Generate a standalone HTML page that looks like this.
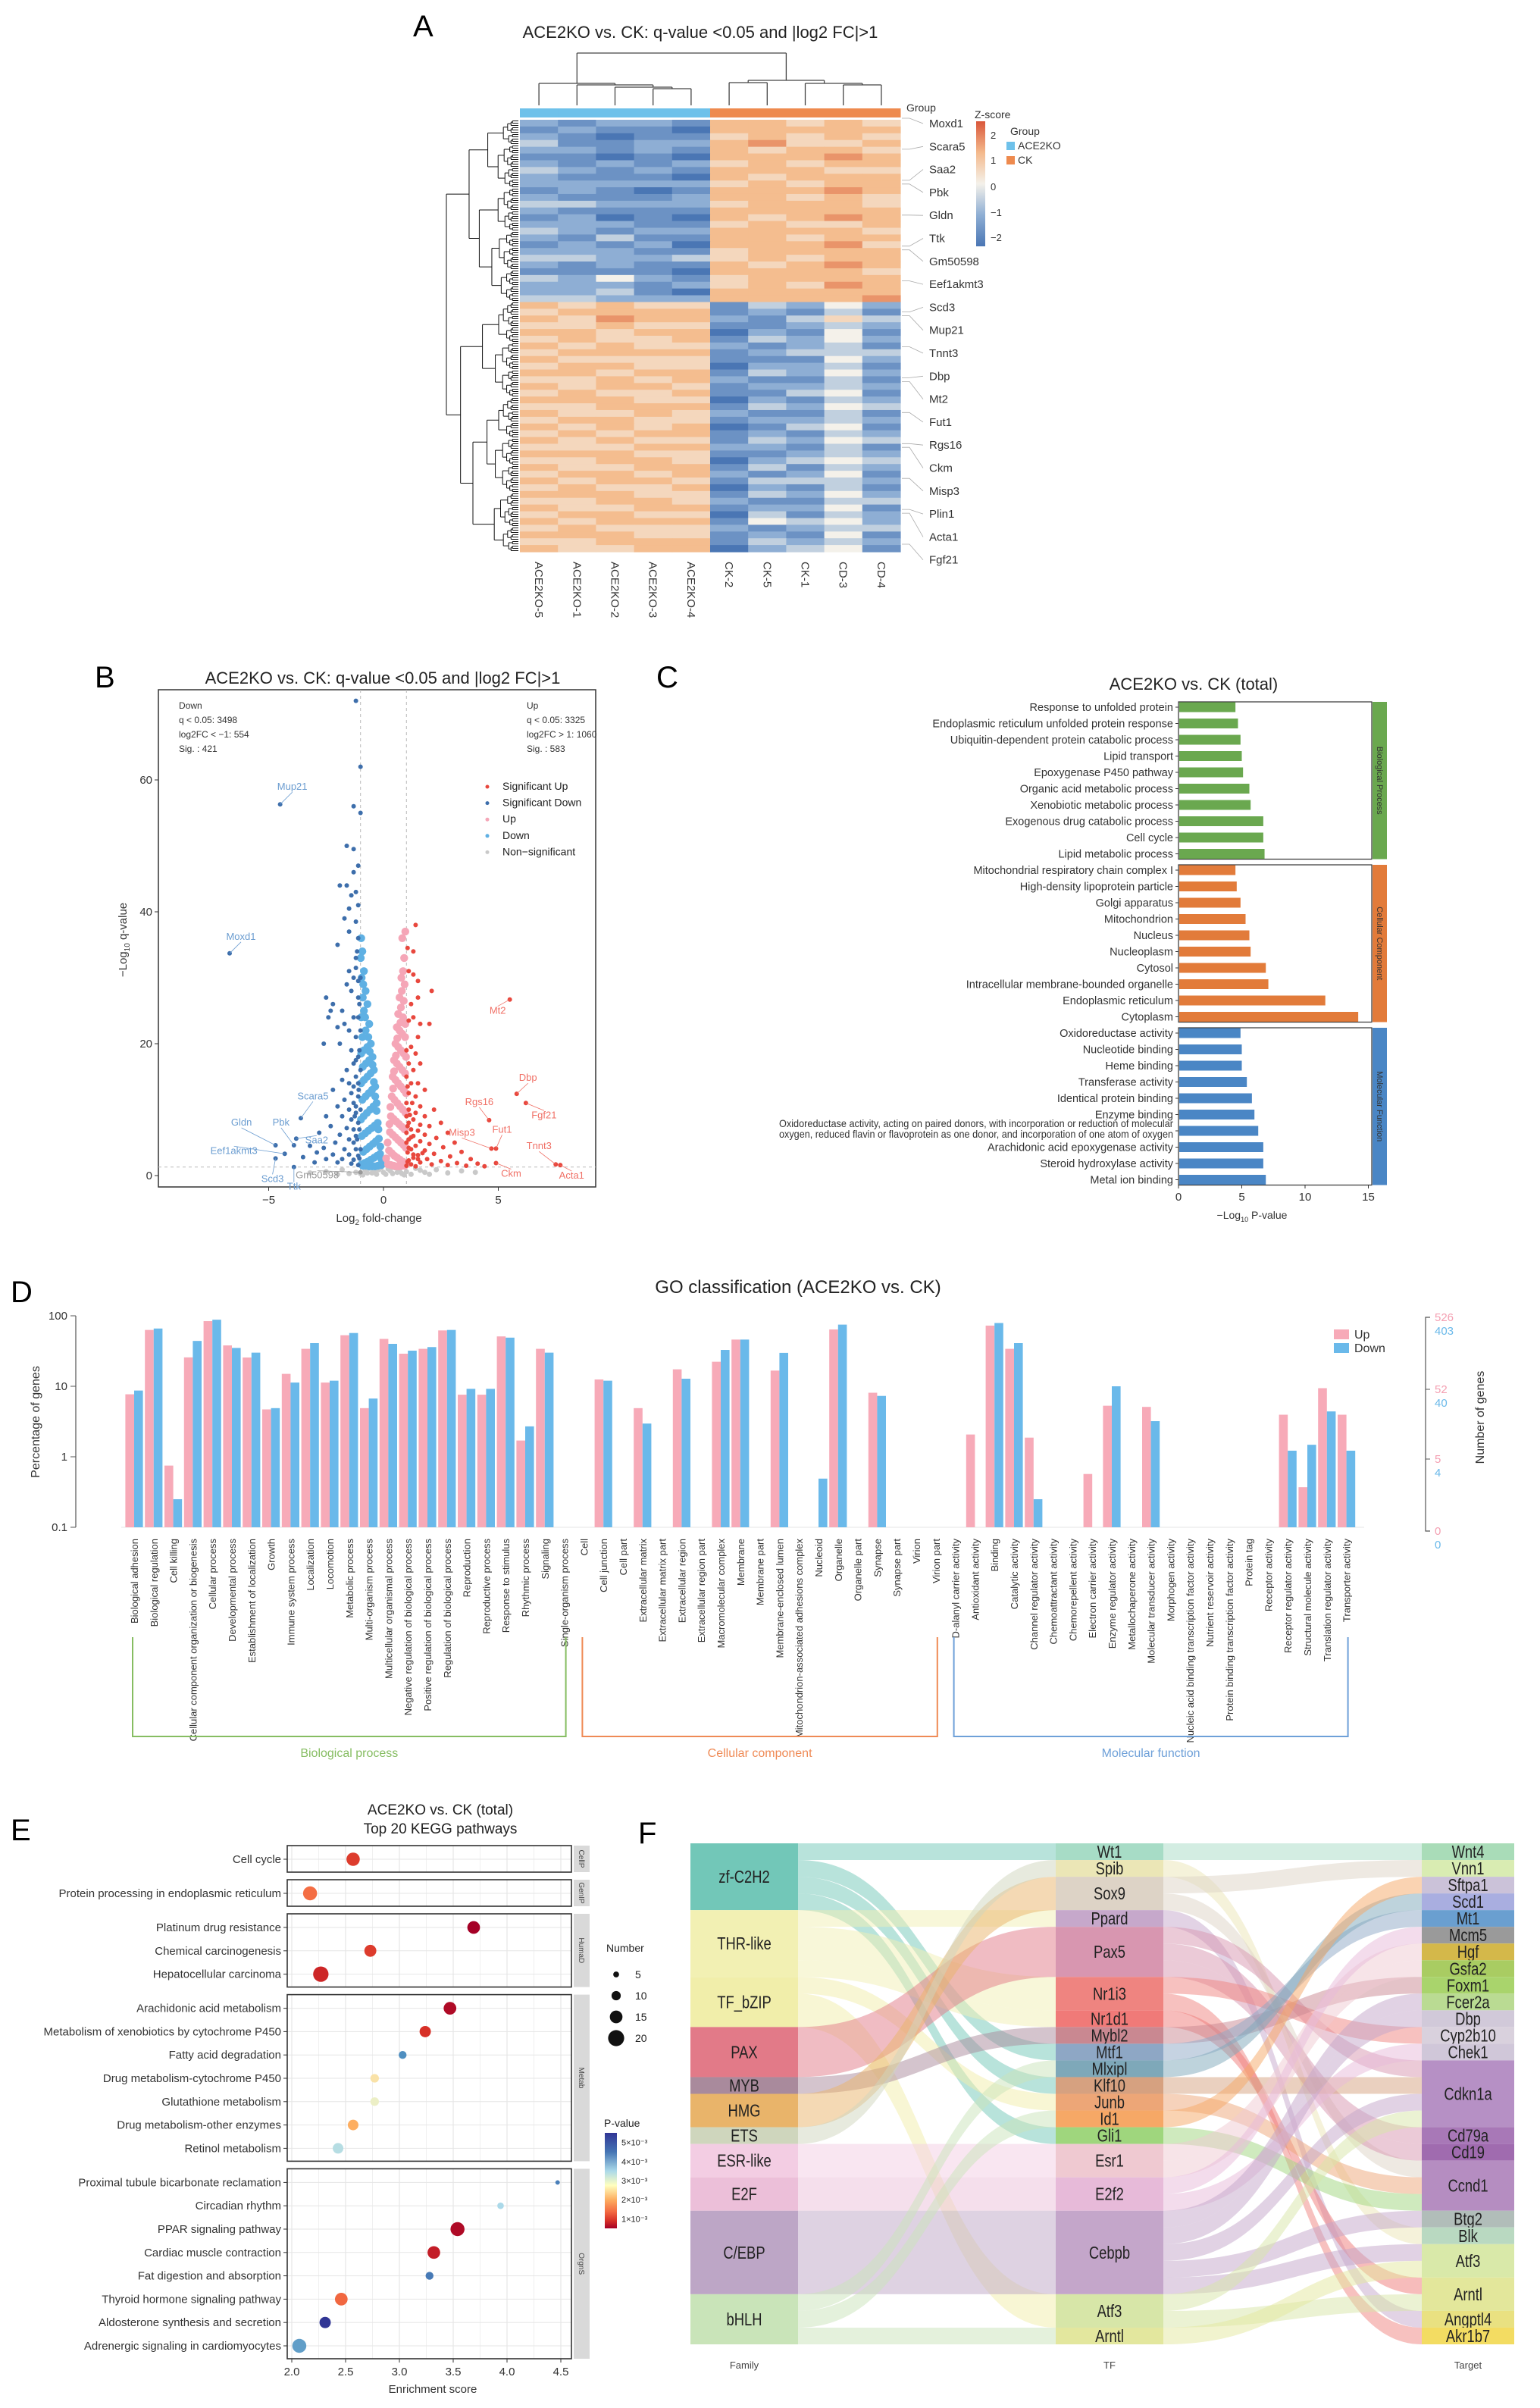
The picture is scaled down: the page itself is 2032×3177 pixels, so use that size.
<!DOCTYPE html>
<html><head><meta charset="utf-8"><title>ACE2KO vs CK figure</title>
<style>
html,body{margin:0;padding:0;background:#fff}
svg{display:block;font-family:"Liberation Sans",Arial,sans-serif}
</style></head>
<body>
<svg id="fig" xmlns="http://www.w3.org/2000/svg" width="2032" height="3177" viewBox="0 0 2032 3177">
<defs>
<linearGradient id="zgrad" x1="0" y1="0" x2="0" y2="1">
<stop offset="0" stop-color="#d9573a"/><stop offset="0.25" stop-color="#f4b98c"/><stop offset="0.5" stop-color="#f4f1ea"/><stop offset="0.75" stop-color="#8eaed4"/><stop offset="1" stop-color="#4a76b4"/>
</linearGradient>
<linearGradient id="pgrad" x1="0" y1="0" x2="0" y2="1">
<stop offset="0" stop-color="#313695"/><stop offset="0.2" stop-color="#4575b4"/><stop offset="0.4" stop-color="#abd9e9"/><stop offset="0.55" stop-color="#ffffbf"/><stop offset="0.7" stop-color="#fdae61"/><stop offset="0.82" stop-color="#f46d43"/><stop offset="0.92" stop-color="#d73027"/><stop offset="1" stop-color="#a50026"/>
</linearGradient>
</defs>
<g id="panelA">
<text x="545" y="48" font-size="40">A</text>
<text x="924" y="50" font-size="22" text-anchor="middle" fill="#222">ACE2KO vs. CK: q-value &lt;0.05 and |log2 FC|&gt;1</text>
</g>
<g id="panelB">
<text x="125" y="907" font-size="40">B</text>
<text x="505" y="902" font-size="22" text-anchor="middle" fill="#222">ACE2KO vs. CK: q-value &lt;0.05 and |log2 FC|&gt;1</text>
</g>
<g id="panelC">
<text x="866" y="907" font-size="40">C</text>
<text x="1575" y="910" font-size="22" text-anchor="middle" fill="#222">ACE2KO vs. CK (total)</text>
</g>
<g id="panelD">
<text x="14" y="1718" font-size="40">D</text>
<text x="1053" y="1706" font-size="24" text-anchor="middle" fill="#222">GO classification (ACE2KO vs. CK)</text>
</g>
<g id="panelE">
<text x="14" y="2428" font-size="40">E</text>
<text x="581" y="2394" font-size="19" text-anchor="middle" fill="#222">ACE2KO vs. CK (total)</text>
<text x="581" y="2419" font-size="19" text-anchor="middle" fill="#222">Top 20 KEGG pathways</text>
</g>
<g id="panelF">
<text x="842" y="2432" font-size="40">F</text>
</g>
</svg>
<script>
// ================= DATA =================
const heatCols = ['ACE2KO-5','ACE2KO-1','ACE2KO-2','ACE2KO-3','ACE2KO-4','CK-2','CK-5','CK-1','CD-3','CD-4'];
const heatGroups = ['ACE2KO','ACE2KO','ACE2KO','ACE2KO','ACE2KO','CK','CK','CK','CK','CK'];
const heatRows = [
"2122166565","1211066666","2101156565","3112267556","2212165665","1101066676","2121256566","3212166655","2111065666",
"2222256566","1210166676","2111266565","3322256665","2111166666","1201065676","2221156556","3212266665","2131166566",
"1212066675","2221156666","3322356566","2121165676","1111066665","3242156666","2221256576","2231066666","3322266667",
"6565513242","5666612131","6576621353","5565511232","6656602141","5655613242","6565521231","5666612333","6555511142",
"5665502231","6656613242","5565621131","6566512232","5655611341","6665502132","5566613243","6556521131","5665512232",
"6565601341","5656612132","6565513243","5556622131","6665511232","5566502343","6556613132","5665621241","6566513332",
"5655602131","6665513242","5566521133","6556612241","5665503132","6566614342","5655521233","6665512141","5566613232","6556602341"];
const heatTopBlock = 27;
const heatGenes = ['Moxd1','Scara5','Saa2','Pbk','Gldn','Ttk','Gm50598','Eef1akmt3','Scd3','Mup21','Tnnt3','Dbp','Mt2','Fut1','Rgs16','Ckm','Misp3','Plin1','Acta1','Fgf21'];

const volSigDown = [[-1.2,72],[-1.0,62],[-1.3,56],[-1.0,55],[-1.6,50],[-1.3,49.5],[-1.1,47],[-1.3,46],[-1.9,44],[-1.6,44],[-1.2,43],[-1.4,42.5],[-1.5,40.5],[-1.1,41],[-1.7,39],[-1.2,38.5],[-2.0,35],[-1.5,37],[-1.1,36],[-2.5,27],[-2.2,26],[-2.3,25],[-2.4,24],[-1.8,25],[-2.0,22.5],[-2.6,20],[-1.9,20],[-1.7,23],[-1.4,28],[-1.3,30],[-1.6,29],[-1.2,33],[-1.5,31],[-1.1,27],[-1.3,24],[-1.5,22],[-1.2,21],[-1.4,19],[-1.1,18],[-1.3,17],[-1.6,16],[-1.2,15],[-1.5,14],[-1.8,14.5],[-2.2,13],[-1.4,12.5],[-1.1,12],[-1.7,11.5],[-1.3,11],[-2.0,10.5],[-1.5,10],[-1.2,9.5],[-2.5,9],[-1.8,9],[-1.4,8.5],[-1.1,8],[-2.3,7.5],[-1.6,7.2],[-1.3,7],[-2.8,6.5],[-1.9,6.2],[-1.2,6],[-1.5,5.5],[-2.1,5],[-1.3,5],[-3.2,4.5],[-2.6,4.2],[-1.7,4],[-1.2,4],[-2.9,3.5],[-2.2,3.2],[-1.5,3.2],[-1.1,3],[-3.5,2.8],[-2.5,2.5],[-1.8,2.5],[-1.3,2.4],[-3.0,2],[-2.0,2],[-1.4,1.8],[-1.1,1.6],[-1.0,30],[-1.05,26],[-1.0,22],[-1.05,19],[-1.0,16],[-1.08,13],[-1.0,10],[-1.05,7],[-1.0,4],[-1.15,34],[-1.2,31.5],[-1.1,29.5],[-1.1,24],[-1.2,17.5],[-1.1,14],[-1.25,9],[-1.15,5.5],[-1.05,2.6],[-1.3,13.5],[-1.2,10.5]];
const volDown = [[-0.97,36],[-0.92,34],[-0.99,33],[-0.85,31],[-0.95,30],[-0.78,28],[-0.9,27],[-0.7,26],[-0.85,25],[-0.97,24],[-0.62,23],[-0.78,22],[-0.92,21],[-0.55,20],[-0.7,19.5],[-0.85,19],[-0.97,18.5],[-0.48,18],[-0.62,17.5],[-0.76,17],[-0.9,16.5],[-0.42,16],[-0.56,15.5],[-0.7,15],[-0.84,14.5],[-0.97,14],[-0.36,13.5],[-0.5,13],[-0.64,12.5],[-0.78,12],[-0.92,11.5],[-0.3,11],[-0.44,10.5],[-0.58,10],[-0.72,9.5],[-0.86,9],[-0.98,8.5],[-0.25,8],[-0.38,7.6],[-0.52,7.2],[-0.66,6.8],[-0.8,6.4],[-0.94,6],[-0.2,5.6],[-0.33,5.2],[-0.46,4.8],[-0.6,4.4],[-0.74,4],[-0.88,3.6],[-0.15,3.3],[-0.28,3],[-0.41,2.7],[-0.55,2.4],[-0.69,2.1],[-0.83,1.9],[-0.96,1.7],[-0.1,1.6],[-0.24,1.5],[-0.37,1.4],[-0.5,1.4],[-0.63,1.4],[-0.77,1.5],[-0.9,1.5],[-0.88,29],[-0.8,24],[-0.66,21],[-0.6,18.8],[-0.48,16.8],[-0.42,14.2],[-0.36,12],[-0.3,9.8],[-0.22,7],[-0.14,4.4],[-0.08,2.4]];
const volUp = [[0.95,37],[0.82,36],[0.9,33],[0.85,31],[0.78,30],[0.92,29],[0.8,28],[0.7,27],[0.88,26.5],[0.76,25.5],[0.64,24.5],[0.85,24],[0.95,23],[0.58,22.5],[0.7,22],[0.82,21.5],[0.94,21],[0.52,20],[0.64,19.5],[0.76,19],[0.88,18.5],[0.98,18],[0.46,17.5],[0.58,17],[0.7,16.5],[0.82,16],[0.94,15.5],[0.4,15],[0.52,14.5],[0.64,14],[0.76,13.5],[0.88,13],[0.98,12.5],[0.36,12],[0.48,11.5],[0.6,11],[0.72,10.5],[0.84,10],[0.96,9.5],[0.32,9],[0.44,8.6],[0.56,8.2],[0.68,7.8],[0.8,7.4],[0.92,7],[0.28,6.6],[0.4,6.2],[0.52,5.8],[0.64,5.4],[0.76,5],[0.88,4.6],[0.98,4.2],[0.24,3.8],[0.36,3.4],[0.48,3],[0.6,2.7],[0.72,2.4],[0.84,2.1],[0.96,1.9],[0.2,1.7],[0.32,1.6],[0.44,1.5],[0.56,1.4],[0.68,1.4],[0.8,1.5],[0.92,1.5],[0.74,23.2],[0.6,20.8],[0.54,18.2],[0.46,15.8],[0.42,13.2],[0.3,10.4],[0.26,7.8],[0.18,5],[0.12,2.6]];
const volSigUp = [[1.4,38],[1.3,34],[1.05,34.5],[1.1,31],[1.3,30.5],[1.5,29.5],[2.1,28],[1.5,27],[1.2,26],[1.6,23],[2.0,23],[1.3,24],[1.1,23.5],[1.5,21],[1.2,19.5],[1.4,18.5],[1.0,19],[1.1,17],[1.6,17],[1.3,16],[1.0,15],[1.2,14],[1.5,14],[1.8,13],[1.1,12.5],[1.4,12],[1.0,11],[1.25,11],[1.6,10.5],[2.2,10],[1.1,10],[1.4,9.5],[1.8,9],[1.0,9],[1.3,8.5],[2.5,8],[1.1,8],[1.6,7.7],[2.0,7.5],[1.2,7],[1.5,6.8],[2.8,6.5],[1.0,6.5],[1.8,6.2],[1.3,6],[2.3,5.7],[1.1,5.5],[1.6,5.2],[3.1,5],[1.0,5],[2.0,4.8],[1.4,4.5],[2.6,4.3],[1.2,4],[1.8,3.8],[3.4,3.6],[1.05,3.5],[2.2,3.3],[1.5,3.1],[2.9,2.9],[1.3,2.7],[3.8,2.5],[1.9,2.5],[1.1,2.3],[2.5,2.2],[1.6,2],[3.2,1.9],[4.1,1.8],[1.2,1.7],[2.1,1.7],[2.8,1.6],[1.0,1.5],[3.6,1.5],[4.4,1.4],[1.4,1.4],[1.05,13.5],[1.15,9.2],[1.05,7.5],[1.2,5.8],[1.1,4.2],[1.3,3.2],[1.05,2.1],[1.5,2.5],[1.7,3.4]];
const volNonSig = [[-2.5,0.6],[-1.8,0.9],[-1.2,0.5],[-0.8,0.8],[-0.5,0.4],[-0.2,0.9],[0,0.5],[0.2,1],[0.4,0.3],[0.7,0.8],[1.0,0.6],[1.4,1.1],[1.8,0.5],[2.3,0.9],[2.8,0.4],[3.4,0.7],[-0.3,0.2],[0.1,0.2],[-0.6,1.1],[0.5,1.2],[-1.5,0.3],[1.2,0.2],[-0.9,0.1],[0.9,0.1],[-3.2,0.4],[4.0,0.5],[-0.1,1.2],[0.3,0.7],[-0.4,0.7],[0.6,0.5],[-1.0,0.3],[-0.7,0.4],[0.8,0.3],[1.6,0.8],[-2.0,0.2],[2.0,0.2]];
const volGenes = ['Mup21','Moxd1','Mt2','Dbp','Fgf21','Rgs16','Fut1','Misp3','Tnnt3','Acta1','Ckm','Gldn','Pbk','Scara5','Saa2','Eef1akmt3','Scd3','Ttk','Gm50598'];
const volGeneFC = [-4.5,-6.7,5.5,5.8,6.2,4.6,4.9,4.7,7.5,7.7,4.9,-4.7,-3.9,-3.6,-3.8,-4.3,-4.7,-3.9,-1.0];
const volGeneQ = [56.3,33.7,26.7,12.4,11,8.4,4.1,4.1,1.7,1.6,1.9,4.6,4.6,8.7,5.6,3.3,2.6,1.3,0.5];
const volGeneDir = ['down','down','up','up','up','up','up','up','up','up','up','down','down','down','down','down','down','down','ns'];
const volLabelOffset = [[16,-19],[15,-18],[-16,19],[15,-17],[24,20],[-13,-20],[8,-21],[-39,-17],[-22,-20],[15,18],[20,18],[-45,-26],[-17,-26],[16,-25],[27,6],[-67,0],[-4,31],[0,30],[-57,8]];
const volStatsDown = ['Down','q < 0.05: 3498','log2FC < \u22121: 554','Sig. : 421'];
const volStatsUp = ['Up','q < 0.05: 3325','log2FC > 1: 1060','Sig. : 583'];
const volXTicks = [-5,0,5];
const volYTicks = [0,20,40,60];

const goTerms = ['Response to unfolded protein','Endoplasmic reticulum unfolded protein response','Ubiquitin-dependent protein catabolic process','Lipid transport','Epoxygenase P450 pathway','Organic acid metabolic process','Xenobiotic metabolic process','Exogenous drug catabolic process','Cell cycle','Lipid metabolic process',
'Mitochondrial respiratory chain complex I','High-density lipoprotein particle','Golgi apparatus','Mitochondrion','Nucleus','Nucleoplasm','Cytosol','Intracellular membrane-bounded organelle','Endoplasmic reticulum','Cytoplasm',
'Oxidoreductase activity','Nucleotide binding','Heme binding','Transferase activity','Identical protein binding','Enzyme binding','OXIDO_LONG','Arachidonic acid epoxygenase activity','Steroid hydroxylase activity','Metal ion binding'];
const goLogP = [4.5,4.7,4.9,5.0,5.1,5.6,5.7,6.7,6.7,6.8, 4.5,4.6,4.9,5.3,5.6,5.7,6.9,7.1,11.6,14.2, 4.9,5.0,5.0,5.4,5.8,6.0,6.3,6.7,6.7,6.9];
const goCategory = ['BP','BP','BP','BP','BP','BP','BP','BP','BP','BP','CC','CC','CC','CC','CC','CC','CC','CC','CC','CC','MF','MF','MF','MF','MF','MF','MF','MF','MF','MF'];
const goCatNames = ['Biological Process','Cellular Component','Molecular Function'];
const goXTicks = [0,5,10,15];

const gocNames = ['Biological adhesion','Biological regulation','Cell killing','Cellular component organization or biogenesis','Cellular process','Developmental process','Establishment of localization','Growth','Immune system process','Localization','Locomotion','Metabolic process','Multi-organism process','Multicellular organismal process','Negative regulation of biological process','Positive regulation of biological process','Regulation of biological process','Reproduction','Reproductive process','Response to stimulus','Rhythmic process','Signaling','Single-organism process',
'Cell','Cell junction','Cell part','Extracellular matrix','Extracellular matrix part','Extracellular region','Extracellular region part','Macromolecular complex','Membrane','Membrane part','Membrane-enclosed lumen','Mitochondrion-associated adhesions complex','Nucleoid','Organelle','Organelle part','Synapse','Synapse part','Virion','Virion part',
'D-alanyl carrier activity','Antioxidant activity','Binding','Catalytic activity','Channel regulator activity','Chemoattractant activity','Chemorepellent activity','Electron carrier activity','Enzyme regulator activity','Metallochaperone activity','Molecular transducer activity','Morphogen activity','Nucleic acid binding transcription factor activity','Nutrient reservoir activity','Protein binding transcription factor activity','Protein tag','Receptor activity','Receptor regulator activity','Structural molecule activity','Translation regulator activity','Transporter activity'];
const gocUp = [7.7,63,0.75,25.7,84,38,25.6,4.7,15,34,11.3,53,4.9,47,29,34,62,7.6,7.6,51,1.7,34,0,
0,12.5,0,4.9,0,17.4,0,22.3,46,0,16.7,0,0,64,0,8.1,0,0,0,
0,2.07,72.6,34,1.87,0,0,0.57,5.3,0,5.1,0,0,0,0,0,0,3.95,0.37,9.4,3.95];
const gocDown = [8.7,66,0.25,44,88,35,30,4.9,11.3,41,12,57,6.7,40,32,36,63,9.2,9.2,49,2.7,30,0,
0,12,0,2.96,0,12.8,0,32.8,46,0,29.8,0,0.49,75,0,7.3,0,0,0,
0,0,79,41,0.25,0,0,0,10,0,3.2,0,0,0,0,0,0,1.22,1.48,4.4,1.22];
const gocSections = [['Biological process',0,22,'#86bd62'],['Cellular component',23,41,'#ef8a55'],['Molecular function',42,62,'#6ea0d8']];
const gocYTicks = [0.1,1,10,100];
const gocRightUp = ['526','52','5','0'];
const gocRightDown = ['403','40','4','0'];

const keggNames = ['Cell cycle','Protein processing in endoplasmic reticulum','Platinum drug resistance','Chemical carcinogenesis','Hepatocellular carcinoma','Arachidonic acid metabolism','Metabolism of xenobiotics by cytochrome P450','Fatty acid degradation','Drug metabolism-cytochrome P450','Glutathione metabolism','Drug metabolism-other enzymes','Retinol metabolism','Proximal tubule bicarbonate reclamation','Circadian rhythm','PPAR signaling pathway','Cardiac muscle contraction','Fat digestion and absorption','Thyroid hormone signaling pathway','Aldosterone synthesis and secretion','Adrenergic signaling in cardiomyocytes'];
const keggFacet = ['CellP','GenIP','HumaD','HumaD','HumaD','Metab','Metab','Metab','Metab','Metab','Metab','Metab','OrgnS','OrgnS','OrgnS','OrgnS','OrgnS','OrgnS','OrgnS','OrgnS'];
const keggScore = [2.57,2.17,3.69,2.73,2.27,3.47,3.24,3.03,2.77,2.77,2.57,2.43,4.47,3.94,3.54,3.32,3.28,2.46,2.31,2.07];
const keggNumber = [16,17,15,14,19,15,13,8,9,9,12,12,3,6,17,15,8,15,13,17];
const keggP = [0.0012,0.0020,0.0005,0.0012,0.0009,0.0006,0.0010,0.0042,0.0029,0.0031,0.0026,0.0036,0.0045,0.0037,0.0006,0.0008,0.0046,0.0019,0.0052,0.0041];
const keggXTicks = [2.0,2.5,3.0,3.5,4.0,4.5];
const keggSizeLegend = [5,10,15,20];
const keggPLegend = ['5\u00d710\u207b\u00b3','4\u00d710\u207b\u00b3','3\u00d710\u207b\u00b3','2\u00d710\u207b\u00b3','1\u00d710\u207b\u00b3'];
const keggPLegendVals = [0.005,0.004,0.003,0.002,0.001];

const famNodes = ['zf-C2H2','THR-like','TF_bZIP','PAX','MYB','HMG','ETS','ESR-like','E2F','C/EBP','bHLH'];
const famColors = ['#72c7b8','#f2f0b3','#f1eeaa','#e27a88','#a98a9c','#e9b46a','#cfd6bd','#f3cde3','#ecbfd9','#bda6c6','#c9e4b9'];
const tfNodes = ['Wt1','Spib','Sox9','Ppard','Pax5','Nr1i3','Nr1d1','Mybl2','Mtf1','Mlxipl','Klf10','Junb','Id1','Gli1','Esr1','E2f2','Cebpb','Atf3','Arntl'];
const tfColors = ['#a7dcc6','#ebe6b6','#ddd3c6','#c6a8cb','#d896b0','#ef8480','#f07a78','#c98891','#8ea7c5','#7ea8b9','#d6a180','#eda677','#f6a866','#9fd67d','#efc9d1','#e7bad9','#c4a6ca','#d7e6a8','#e3e79e'];
const tgtNodes = ['Wnt4','Vnn1','Sftpa1','Scd1','Mt1','Mcm5','Hgf','Gsfa2','Foxm1','Fcer2a','Dbp','Cyp2b10','Chek1','Cdkn1a','Cd79a','Cd19','Ccnd1','Btg2','Blk','Atf3','Arntl','Angptl4','Akr1b7'];
const tgtColors = ['#a9dcb8','#d9ecb2','#cbc2d9','#a9aee0','#6a9fd0','#9a9a9a','#d4b84a','#a9cc62','#a9d46c','#badb93','#d1c9d9','#d9d1dd','#d0c7d9','#b690c5','#a878b7','#a06baf','#b58dc1','#b1bdb9','#b9d9c1','#d9e9a9','#e3e79b','#e9e181','#f3dc62'];
const famLinks = [['zf-C2H2','Wt1',1],['zf-C2H2','Mtf1',1],['zf-C2H2','Klf10',1],['zf-C2H2','Gli1',1],['THR-like','Ppard',1],['THR-like','Nr1i3',2],['THR-like','Nr1d1',1],['TF_bZIP','Junb',1],['TF_bZIP','Atf3',2],['PAX','Pax5',3],['MYB','Mybl2',1],['HMG','Sox9',2],['ETS','Spib',1],['ESR-like','Esr1',2],['E2F','E2f2',2],['C/EBP','Cebpb',5],['bHLH','Mlxipl',1],['bHLH','Id1',1],['bHLH','Arntl',1]];
const tfLinks = [['Wt1','Wnt4',1],['Spib','Blk',1],['Sox9','Vnn1',1],['Sox9','Ccnd1',1],['Ppard','Angptl4',1],['Pax5','Cdkn1a',1],['Pax5','Cd79a',1],['Pax5','Cd19',1],['Nr1i3','Cyp2b10',1],['Nr1i3','Akr1b7',1],['Nr1d1','Arntl',1],['Mybl2','Foxm1',1],['Mtf1','Mt1',1],['Mlxipl','Scd1',1],['Klf10','Cdkn1a',1],['Junb','Ccnd1',1],['Id1','Sftpa1',1],['Gli1','Ccnd1',1],['Esr1','Hgf',1],['Esr1','Gsfa2',1],['E2f2','Mcm5',1],['E2f2','Chek1',1],['Cebpb','Fcer2a',1],['Cebpb','Dbp',1],['Cebpb','Cdkn1a',1],['Cebpb','Btg2',1],['Cebpb','Atf3',1],['Atf3','Cdkn1a',1],['Atf3','Arntl',1],['Arntl','Atf3',1]];

// ================= HELPERS =================
const NS = 'http://www.w3.org/2000/svg';
function mk(tag, attrs, parent) {
  const e = document.createElementNS(NS, tag);
  for (const k in attrs) e.setAttribute(k, attrs[k]);
  parent.appendChild(e);
  return e;
}
function mkText(str, attrs, parent) {
  const t = mk('text', attrs, parent);
  t.textContent = str;
  return t;
}
function lerpColor(a, b, t) {
  const pa = [1,3,5].map(i => parseInt(a.substr(i,2),16));
  const pb = [1,3,5].map(i => parseInt(b.substr(i,2),16));
  return 'rgb(' + pa.map((v,i) => Math.round(v + (pb[i]-v)*t)).join(',') + ')';
}
function rampColor(stops, v) {
  if (v <= stops[0][0]) return stops[0][1];
  for (let i = 1; i < stops.length; i++) {
    if (v <= stops[i][0]) return lerpColor(stops[i-1][1], stops[i][1], (v - stops[i-1][0]) / (stops[i][0] - stops[i-1][0]));
  }
  return stops[stops.length-1][1];
}

// ================= PANEL A =================
(function(){
  const g = document.getElementById('panelA');
  const hx0 = 686, hx1 = 1188, hy0 = 158, hy1 = 728;
  const cw = (hx1 - hx0) / heatCols.length;
  const rh = (hy1 - hy0) / heatRows.length;
  const zStops = [[-2,'#4a76b4'],[-1,'#8eaed4'],[0,'#f4f1ea'],[1,'#f4bd8f'],[2,'#de6a45']];
  const colX = i => hx0 + i * cw;
  const rowY = r => hy0 + r * rh;
  heatRows.forEach((row, r) => {
    for (let c = 0; c < heatCols.length; c++) {
      const z = (parseInt(row[c]) - 4) / 2;
      const cell = mk('rect', {x: colX(c).toFixed(2), y: rowY(r).toFixed(2), width: (cw+0.6).toFixed(2), height: (rh+0.6).toFixed(2), fill: rampColor(zStops, z)}, g);
      
      
    }
  });
  heatGroups.forEach((grp, c) => {
    const b = mk('rect', {x: colX(c), y: 143, width: cw+0.5, height: 12, fill: grp === 'ACE2KO' ? '#6ec1ea' : '#ee8a4e'}, g);
    
    
  });
  const grpLbl = mkText('Group', {x: 1196, y: 147, 'font-size': 14, fill: '#333'}, g);
  
  
  heatCols.forEach((name, c) => {
    const t = mkText(name, {x: 0, y: 0, transform: 'translate(' + (colX(c) + cw/2 - 5) + ',741) rotate(90)', 'font-size': 15, fill: '#333'}, g);
    
    
  });
  const cd = mk('g', {stroke: '#444', 'stroke-width': 1.3, fill: 'none'}, g);
  
  
  const cx = c => colX(c) + cw/2;
  const segs = [
    [cx(3),139,cx(3),117],[cx(4),139,cx(4),117],[cx(3),117,cx(4),117],
    [cx(2),139,cx(2),115],[(cx(3)+cx(4))/2,117,(cx(3)+cx(4))/2,115],[cx(2),115,(cx(3)+cx(4))/2,115],
    [cx(1),139,cx(1),112],[(cx(2)+cx(4))/2,115,(cx(2)+cx(4))/2,112],[cx(1),112,(cx(2)+cx(4))/2,112],
    [cx(0),139,cx(0),110],[(cx(1)+cx(3))/2,112,(cx(1)+cx(3))/2,110],[cx(0),110,(cx(1)+cx(3))/2,110],
    [cx(5),139,cx(5),109],[cx(6),139,cx(6),109],[cx(5),109,cx(6),109],
    [cx(8),139,cx(8),112],[cx(9),139,cx(9),112],[cx(8),112,cx(9),112],
    [cx(7),139,cx(7),110],[(cx(8)+cx(9))/2,112,(cx(8)+cx(9))/2,110],[cx(7),110,(cx(8)+cx(9))/2,110],
    [(cx(5)+cx(6))/2,109,(cx(5)+cx(6))/2,106],[(cx(7)+cx(8))/2,110,(cx(7)+cx(8))/2,106],[(cx(5)+cx(6))/2,106,(cx(7)+cx(8))/2,106],
    [(cx(0)+cx(2))/2,110,(cx(0)+cx(2))/2,70],[(cx(6)+cx(7))/2,106,(cx(6)+cx(7))/2,70],[(cx(0)+cx(2))/2,70,(cx(6)+cx(7))/2,70]
  ];
  segs.forEach(s => mk('line', {x1: s[0], y1: s[1], x2: s[2], y2: s[3]}, cd));
  const rd = mk('g', {stroke: '#111', 'stroke-width': 1, fill: 'none'}, g);
  
  
  const leafN = 190;
  const ly = i => hy0 + (i + 0.5) * (hy1 - hy0) / leafN;
  function tree(a, b, depth) {
    if (b - a <= 1) return {y: ly(a), x: 684};
    let m;
    if (depth === 0) m = Math.round(leafN * heatTopBlock / heatRows.length);
    else m = a + Math.max(1, Math.round((b - a) * (0.38 + 0.24 * ((a * 7 + b * 3) % 5) / 4)));
    if (m >= b) m = b - 1;
    const L = tree(a, m, depth + 1), R = tree(m, b, depth + 1);
    const x = depth === 0 ? 589 : 684 - 95 * Math.pow((b - a) / leafN, 0.55) - (depth < 3 ? 6 : 0);
    mk('line', {x1: x, y1: L.y, x2: x, y2: R.y}, rd);
    mk('line', {x1: x, y1: L.y, x2: L.x, y2: L.y}, rd);
    mk('line', {x1: x, y1: R.y, x2: R.x, y2: R.y}, rd);
    return {x: x, y: (L.y + R.y) / 2};
  }
  tree(0, leafN, 0);
  const lc = mk('g', {stroke: '#aaa', 'stroke-width': 0.8, fill: 'none'}, g);
  
  
  heatGenes.forEach((name, i) => {
    const yl = 168 + i * 30.3;
    const yr = hy0 + 10 + i * ((hy1 - hy0 - 20) / (heatGenes.length - 1)) + ((i % 3) - 1) * 12;
    mk('polyline', {points: '1190,' + yr.toFixed(1) + ' 1200,' + yr.toFixed(1) + ' 1218,' + (yl - 5).toFixed(1)}, lc);
    const t = mkText(name, {x: 1226, y: yl, 'font-size': 15, fill: '#333'}, g);
    
    
  });
  const zt = mkText('Z-score', {x: 1286, y: 156, 'font-size': 14, fill: '#333'}, g);
  
  
  const zb = mk('rect', {x: 1288, y: 160, width: 12, height: 165, fill: 'url(#zgrad)'}, g);
  
  
  [['2',178],['1',211],['0',246],['\u22121',280],['\u22122',313]].forEach(p => {
    const t = mkText(p[0], {x: 1307, y: p[1] + 5, 'font-size': 13, fill: '#333'}, g);
    
    
  });
  const gt = mkText('Group', {x: 1333, y: 178, 'font-size': 14, fill: '#333'}, g);
  
  
  [['ACE2KO','#6ec1ea',187],['CK','#ee8a4e',206]].forEach(p => {
    const s = mk('rect', {x: 1328, y: p[2], width: 11, height: 11, fill: p[1]}, g);
    
    
    const t = mkText(p[0], {x: 1343, y: p[2] + 10, 'font-size': 14, fill: '#333'}, g);
    
    
  });
})();

// ================= PANEL B =================
(function(){
  const g = document.getElementById('panelB');
  const bx0 = 209, bx1 = 786, by0 = 910, by1 = 1566;
  const X = v => 506 + v * 30.3;
  const Y = v => 1551 - v * 8.7;
  const box = mk('rect', {x: bx0, y: by0, width: bx1 - bx0, height: by1 - by0, fill: 'none', stroke: '#333', 'stroke-width': 1.5}, g);
  
  
  [-1, 1].forEach(v => {
    const l = mk('line', {x1: X(v), y1: by0, x2: X(v), y2: by1, stroke: '#bbb', 'stroke-dasharray': '4,4', 'stroke-width': 1}, g);
    
    
  });
  const hl = mk('line', {x1: bx0, y1: Y(1.3), x2: bx1, y2: Y(1.3), stroke: '#bbb', 'stroke-dasharray': '4,4', 'stroke-width': 1}, g);
  
  
  function drawSet(arr, color, r, name) {
    const sg = mk('g', {fill: color}, g);
    
    
    arr.forEach(p => {
      const c = mk('circle', {cx: X(p[0]).toFixed(1), cy: Y(p[1]).toFixed(1), r: r}, sg);
      
      
    });
  }
  drawSet(volNonSig, '#c9c9c9', 3.5, 'non-significant');
  drawSet(volDown, '#5fb0e3', 5.2, 'down');
  drawSet(volUp, '#f5a6b7', 5.2, 'up');
  drawSet(volSigDown, '#3d6eab', 3, 'significant-down');
  drawSet(volSigUp, '#e8473d', 3, 'significant-up');
  volGenes.forEach((name, i) => {
    const px = X(volGeneFC[i]), py = Y(volGeneQ[i]);
    const col = volGeneDir[i] === 'up' ? '#e8473d' : (volGeneDir[i] === 'down' ? '#3d6eab' : '#999');
    const tcol = volGeneDir[i] === 'up' ? '#f07066' : (volGeneDir[i] === 'down' ? '#6a9cd0' : '#999');
    const c = mk('circle', {cx: px, cy: py, r: 3, fill: col}, g);
    
    
    const tx = px + volLabelOffset[i][0], ty = py + volLabelOffset[i][1];
    const ln = mk('line', {x1: px, y1: py, x2: tx, y2: ty + (volLabelOffset[i][1] < 0 ? 3 : -10), stroke: tcol, 'stroke-width': 0.8}, g);
    
    
    const t = mkText(name, {x: tx, y: ty, 'font-size': 13, fill: tcol, 'text-anchor': 'middle'}, g);
    
    
  });
  volStatsDown.forEach((s, i) => {
    const t = mkText(s, {x: 236, y: 935 + i * 19, 'font-size': 12, fill: '#333'}, g);
    
    
  });
  volStatsUp.forEach((s, i) => {
    const t = mkText(s, {x: 695, y: 935 + i * 19, 'font-size': 12, fill: '#333'}, g);
    
    
  });
  [['Significant Up','#e8473d'],['Significant Down','#3d6eab'],['Up','#f5a6b7'],['Down','#5fb0e3'],['Non\u2212significant','#c9c9c9']].forEach((p, i) => {
    const c = mk('circle', {cx: 643, cy: 1042 + i * 21.6 - 4, r: 2.5, fill: p[1]}, g);
    
    
    const t = mkText(p[0], {x: 663, y: 1042 + i * 21.6, 'font-size': 14, fill: '#222'}, g);
    
    
  });
  volYTicks.forEach(v => {
    mk('line', {x1: bx0 - 5, y1: Y(v), x2: bx0, y2: Y(v), stroke: '#333'}, g);
    const t = mkText(String(v), {x: bx0 - 8, y: Y(v) + 5, 'font-size': 15, 'text-anchor': 'end', fill: '#333'}, g);
    
    
  });
  volXTicks.forEach(v => {
    mk('line', {x1: X(v), y1: by1, x2: X(v), y2: by1 + 5, stroke: '#333'}, g);
    const t = mkText(v < 0 ? '\u2212' + Math.abs(v) : String(v), {x: X(v), y: by1 + 22, 'font-size': 15, 'text-anchor': 'middle', fill: '#333'}, g);
    
    
  });
  const xt = mkText('', {x: 500, y: by1 + 46, 'font-size': 15, 'text-anchor': 'middle', fill: '#333'}, g);
  xt.innerHTML = 'Log<tspan font-size="10" dy="4">2</tspan><tspan dy="-4"> fold-change</tspan>';
  
  
  const yt = mkText('', {x: 0, y: 0, transform: 'translate(167,1240) rotate(-90)', 'font-size': 15, 'text-anchor': 'middle', fill: '#333'}, g);
  yt.innerHTML = '\u2212Log<tspan font-size="10" dy="4">10</tspan><tspan dy="-4"> q-value</tspan>';
  
  
})();

// ================= PANEL C =================
(function(){
  const g = document.getElementById('panelC');
  const ax0 = 1555, axR = 1810;
  const X = v => ax0 + v * 16.7;
  const rowY = i => 933 + i * 21.5;
  const catColor = {BP: '#6aa84f', CC: '#e27b3a', MF: '#4a86c5'};
  const cats = ['BP','CC','MF'];
  cats.forEach((cat, ci) => {
    const idx = goCategory.map((c, i) => c === cat ? i : -1).filter(i => i >= 0);
    const top = rowY(idx[0]) - 7, bot = rowY(idx[idx.length-1]) + 7;
    const f = mk('rect', {x: ax0, y: top, width: axR - ax0, height: bot - top, fill: 'none', stroke: '#333', 'stroke-width': 1.2}, g);
    
    
    const s = mk('rect', {x: axR + 1, y: top, width: 19, height: bot - top, fill: catColor[cat]}, g);
    
    
    const st = mkText(goCatNames[ci], {x: 0, y: 0, transform: 'translate(' + (axR + 7) + ',' + ((top + bot) / 2) + ') rotate(90)', 'font-size': 11, 'text-anchor': 'middle', fill: '#333'}, g);
    
    
  });
  goTerms.forEach((term, i) => {
    const y = rowY(i);
    const b = mk('rect', {x: ax0 + 1, y: y - 6.5, width: X(goLogP[i]) - ax0 - 1, height: 13, fill: catColor[goCategory[i]]}, g);
    
    
    mk('line', {x1: ax0 - 4, y1: y, x2: ax0, y2: y, stroke: '#333'}, g);
    if (term === 'OXIDO_LONG') {
      const t1 = mkText('Oxidoreductase activity, acting on paired donors, with incorporation or reduction of molecular', {x: 1548, y: y - 5, 'font-size': 14, 'text-anchor': 'end', fill: '#333', textLength: 520, lengthAdjust: 'spacingAndGlyphs'}, g);
      
      
      const t2 = mkText('oxygen, reduced flavin or flavoprotein as one donor, and incorporation of one atom of oxygen', {x: 1548, y: y + 9, 'font-size': 14, 'text-anchor': 'end', fill: '#333', textLength: 520, lengthAdjust: 'spacingAndGlyphs'}, g);
      
      
    } else {
      const t = mkText(term, {x: 1548, y: y + 5, 'font-size': 14.5, 'text-anchor': 'end', fill: '#333'}, g);
      
      
    }
  });
  goXTicks.forEach(v => {
    mk('line', {x1: X(v), y1: 1563, x2: X(v), y2: 1568, stroke: '#333'}, g);
    const t = mkText(String(v), {x: X(v), y: 1584, 'font-size': 15, 'text-anchor': 'middle', fill: '#333'}, g);
    
    
  });
  const xt = mkText('', {x: 1652, y: 1608, 'font-size': 14, 'text-anchor': 'middle', fill: '#333'}, g);
  xt.innerHTML = '\u2212Log<tspan font-size="9" dy="4">10</tspan><tspan dy="-4"> P-value</tspan>';
  
  
})();

// ================= PANEL D =================
(function(){
  const g = document.getElementById('panelD');
  const x0 = 177, step = 25.8, bw = 11.6;
  const Y = v => 2015 - (Math.log10(v) + 1) * 93;
  const XC = i => x0 + i * step;
  mk('line', {x1: 100, y1: Y(100), x2: 100, y2: Y(0.1), stroke: '#555', 'stroke-width': 1.2}, g);
  mk('line', {x1: 160, y1: 2015, x2: 1800, y2: 2015, stroke: '#eee', 'stroke-width': 1.5}, g);
  gocYTicks.forEach(v => {
    mk('line', {x1: 93, y1: Y(v), x2: 100, y2: Y(v), stroke: '#555'}, g);
    const t = mkText(String(v), {x: 89, y: Y(v) + 5, 'font-size': 15, 'text-anchor': 'end', fill: '#333'}, g);
    
    
  });
  const yt = mkText('Percentage of genes', {x: 0, y: 0, transform: 'translate(52,1876) rotate(-90)', 'font-size': 16, 'text-anchor': 'middle', fill: '#333'}, g);
  
  
  gocNames.forEach((name, i) => {
    const xc = XC(i);
    if (gocUp[i] > 0.1) {
      const b = mk('rect', {x: xc - bw, y: Y(gocUp[i]), width: bw, height: 2015 - Y(gocUp[i]), fill: '#f7aab8'}, g);
      
      
    }
    if (gocDown[i] > 0.1) {
      const b = mk('rect', {x: xc, y: Y(gocDown[i]), width: bw, height: 2015 - Y(gocDown[i]), fill: '#6ab9ea'}, g);
      
      
    }
    const t = mkText(name, {x: 0, y: 0, transform: 'translate(' + (xc + 5) + ',2030) rotate(-90)', 'font-size': 13, 'text-anchor': 'end', fill: '#333'}, g);
    
    
  });
  gocSections.forEach(sec => {
    const xa = XC(sec[1]) - 2, xb = XC(sec[2]) + 2;
    const p = mk('polyline', {points: xa + ',2160 ' + xa + ',2291 ' + xb + ',2291 ' + xb + ',2160', fill: 'none', stroke: sec[3], 'stroke-width': 2}, g);
    
    
    const t = mkText(sec[0], {x: (xa + xb) / 2, y: 2318, 'font-size': 16, 'text-anchor': 'middle', fill: sec[3]}, g);
    
    
  });
  mk('polyline', {points: '1887,1738 1881,1738 1881,2020 1887,2020', fill: 'none', stroke: '#555', 'stroke-width': 1.2}, g);
  const rY = [1738, 1833, 1925, 2020];
  rY.forEach((y, i) => {
    mk('line', {x1: 1881, y1: y, x2: 1887, y2: y, stroke: '#555'}, g);
    const a = mkText(gocRightUp[i], {x: 1893, y: y + 5, 'font-size': 15, fill: '#f4a0b2'}, g);
    
    
    const b = mkText(gocRightDown[i], {x: 1893, y: y + 23, 'font-size': 15, fill: '#6ab9ea'}, g);
    
    
  });
  const rt = mkText('Number of genes', {x: 0, y: 0, transform: 'translate(1958,1870) rotate(-90)', 'font-size': 16, 'text-anchor': 'middle', fill: '#333'}, g);
  
  
  [['Up','#f7aab8',1754],['Down','#6ab9ea',1772]].forEach(p => {
    const s = mk('rect', {x: 1760, y: p[2], width: 20, height: 13, fill: p[1]}, g);
    
    
    const t = mkText(p[0], {x: 1787, y: p[2] + 12, 'font-size': 16, fill: '#333'}, g);
    
    
  });
})();

// ================= PANEL E =================
(function(){
  const g = document.getElementById('panelE');
  const X = v => 385 + (v - 2) * 142;
  const px0 = 379, px1 = 754;
  const pStops = [[0.0005,'#a50026'],[0.001,'#d73027'],[0.002,'#f46d43'],[0.0026,'#fdae61'],[0.003,'#f7f3c0'],[0.0037,'#abd9e9'],[0.0042,'#4f8fc0'],[0.0047,'#4575b4'],[0.0052,'#313695']];
  const rowY = [];
  let y = 2453;
  keggNames.forEach((n, i) => {
    if (i > 0) y += (keggFacet[i] === keggFacet[i-1]) ? 30.8 : 45;
    rowY.push(y);
  });
  const facets = [];
  keggFacet.forEach((f, i) => { if (!facets.length || facets[facets.length-1].name !== f) facets.push({name: f, a: i, b: i}); else facets[facets.length-1].b = i; });
  facets.forEach(f => {
    const top = rowY[f.a] - 18, bot = rowY[f.b] + 17;
    const bg = mk('rect', {x: px0, y: top, width: px1 - px0, height: bot - top, fill: '#fff'}, g);
    
    
    for (let v = 2.0; v <= 4.51; v += 0.25) {
      mk('line', {x1: X(v), y1: top, x2: X(v), y2: bot, stroke: Math.abs(v * 2 - Math.round(v * 2)) < 0.01 ? '#e2e2e2' : '#f0f0f0', 'stroke-width': 1}, g);
    }
    for (let i = f.a; i <= f.b; i++) mk('line', {x1: px0, y1: rowY[i], x2: px1, y2: rowY[i], stroke: '#e6e6e6'}, g);
    const fr = mk('rect', {x: px0, y: top, width: px1 - px0, height: bot - top, fill: 'none', stroke: '#333', 'stroke-width': 1.6}, g);
    
    
    const s = mk('rect', {x: 757, y: top, width: 21, height: bot - top, fill: '#d9d9d9'}, g);
    
    
    const st = mkText(f.name, {x: 0, y: 0, transform: 'translate(764,' + ((top + bot) / 2) + ') rotate(90)', 'font-size': 10, 'text-anchor': 'middle', fill: '#444'}, g);
    
    
  });
  keggNames.forEach((n, i) => {
    mk('line', {x1: px0 - 5, y1: rowY[i], x2: px0, y2: rowY[i], stroke: '#333'}, g);
    const t = mkText(n, {x: 371, y: rowY[i] + 5, 'font-size': 15, 'text-anchor': 'end', fill: '#333'}, g);
    
    
    const c = mk('circle', {cx: X(keggScore[i]), cy: rowY[i], r: 0.45 * keggNumber[i] + 1.6, fill: rampColor(pStops, keggP[i])}, g);
    
    
  });
  const lastBot = rowY[rowY.length-1] + 17;
  keggXTicks.forEach(v => {
    mk('line', {x1: X(v), y1: lastBot, x2: X(v), y2: lastBot + 5, stroke: '#333'}, g);
    const t = mkText(v.toFixed(1), {x: X(v), y: lastBot + 22, 'font-size': 15, 'text-anchor': 'middle', fill: '#333'}, g);
    
    
  });
  const xt = mkText('Enrichment score', {x: 571, y: lastBot + 45, 'font-size': 15, 'text-anchor': 'middle', fill: '#333'}, g);
  
  
  const nt = mkText('Number', {x: 800, y: 2575, 'font-size': 14, fill: '#222'}, g);
  
  
  keggSizeLegend.forEach((n, i) => {
    const cy = 2605 + i * 28;
    const c = mk('circle', {cx: 813, cy: cy, r: 0.45 * n + 1.6, fill: '#111'}, g);
    
    
    const t = mkText(String(n), {x: 838, y: cy + 5, 'font-size': 14, fill: '#222'}, g);
    
    
  });
  const pt = mkText('P-value', {x: 797, y: 2806, 'font-size': 14, fill: '#222'}, g);
  
  
  const cb = mk('rect', {x: 798, y: 2814, width: 16, height: 126, fill: 'url(#pgrad)'}, g);
  
  
  keggPLegend.forEach((s, i) => {
    const yy = 2814 + (0.0055 - keggPLegendVals[i]) / 0.005 * 126;
    const t = mkText(s, {x: 820, y: yy + 4, 'font-size': 11, fill: '#222'}, g);
    
    
  });
})();

// ================= PANEL F =================
(function(){
  const g = document.getElementById('panelF');
  const top = 2432, bottom = 3093;
  const cols = [{x0: 911, x1: 1053}, {x0: 1393, x1: 1535}, {x0: 1876, x1: 1998}];
  const layers = [famNodes, tfNodes, tgtNodes];
  const colors = [famColors, tfColors, tgtColors];
  const linkSets = [famLinks, tfLinks];
  const nodeVal = layers.map(() => ({}));
  linkSets.forEach((ls, li) => ls.forEach(l => {
    nodeVal[li][l[0]] = (nodeVal[li][l[0]] || 0) + l[2];
  }));
  linkSets.forEach((ls, li) => ls.forEach(l => {
    const cur = nodeVal[li + 1];
    cur['in_' + l[1]] = (cur['in_' + l[1]] || 0) + l[2];
  }));
  const pos = layers.map(() => ({}));
  layers.forEach((nodes, li) => {
    const vals = nodes.map(n => Math.max(nodeVal[li][n] || 0, nodeVal[li]['in_' + n] || 0));
    const total = vals.reduce((a, b) => a + b, 0);
    const unit = (bottom - top) / total;
    let y = top;
    nodes.forEach((n, i) => {
      pos[li][n] = {y0: y, y1: y + vals[i] * unit, unit: unit, outY: y, inY: y, idx: i};
      y += vals[i] * unit;
    });
  });
  const lg = mk('g', {}, g);
  
  
  linkSets.forEach((ls, li) => {
    const src = pos[li], dst = pos[li + 1];
    const outOrder = ls.slice().sort((a, b) => (src[a[0]].idx - src[b[0]].idx) || (dst[a[1]].idx - dst[b[1]].idx));
    const inOrder = ls.slice().sort((a, b) => (dst[a[1]].idx - dst[b[1]].idx) || (src[a[0]].idx - src[b[0]].idx));
    const sy = new Map(), ty = new Map();
    outOrder.forEach(l => { const s = src[l[0]]; const h = l[2] * s.unit; sy.set(l, [s.outY, s.outY + h]); s.outY += h; });
    inOrder.forEach(l => { const d = dst[l[1]]; const h = l[2] * d.unit; ty.set(l, [d.inY, d.inY + h]); d.inY += h; });
    const xa = cols[li].x1, xb = cols[li + 1].x0, xm = (xa + xb) / 2;
    ls.forEach(l => {
      const s = sy.get(l), t = ty.get(l);
      const col = colors[li][layers[li].indexOf(l[0])];
      const d = 'M' + xa + ',' + s[0] + ' C' + xm + ',' + s[0] + ' ' + xm + ',' + t[0] + ' ' + xb + ',' + t[0] +
        ' L' + xb + ',' + t[1] + ' C' + xm + ',' + t[1] + ' ' + xm + ',' + s[1] + ' ' + xa + ',' + s[1] + ' Z';
      const p = mk('path', {d: d, fill: col, 'fill-opacity': 0.5}, lg);
      
      
    });
  });
  layers.forEach((nodes, li) => {
    nodes.forEach((n, i) => {
      const p = pos[li][n];
      const r = mk('rect', {x: cols[li].x0, y: p.y0, width: cols[li].x1 - cols[li].x0, height: p.y1 - p.y0, fill: colors[li][i]}, g);
      
      
      const cxm = (cols[li].x0 + cols[li].x1) / 2;
      const t = mkText(n, {x: (cxm / 0.8).toFixed(1), y: ((p.y0 + p.y1) / 2 + 8).toFixed(1), 'font-size': 23, 'text-anchor': 'middle', fill: '#222', transform: 'scale(0.8,1)'}, g);
      
      
    });
  });
  [['Family', 982], ['TF', 1464], ['Target', 1937]].forEach(p => {
    const t = mkText(p[0], {x: p[1], y: 3125, 'font-size': 13, 'text-anchor': 'middle', fill: '#444'}, g);
    
    
  });
})();
</script>
</body></html>
